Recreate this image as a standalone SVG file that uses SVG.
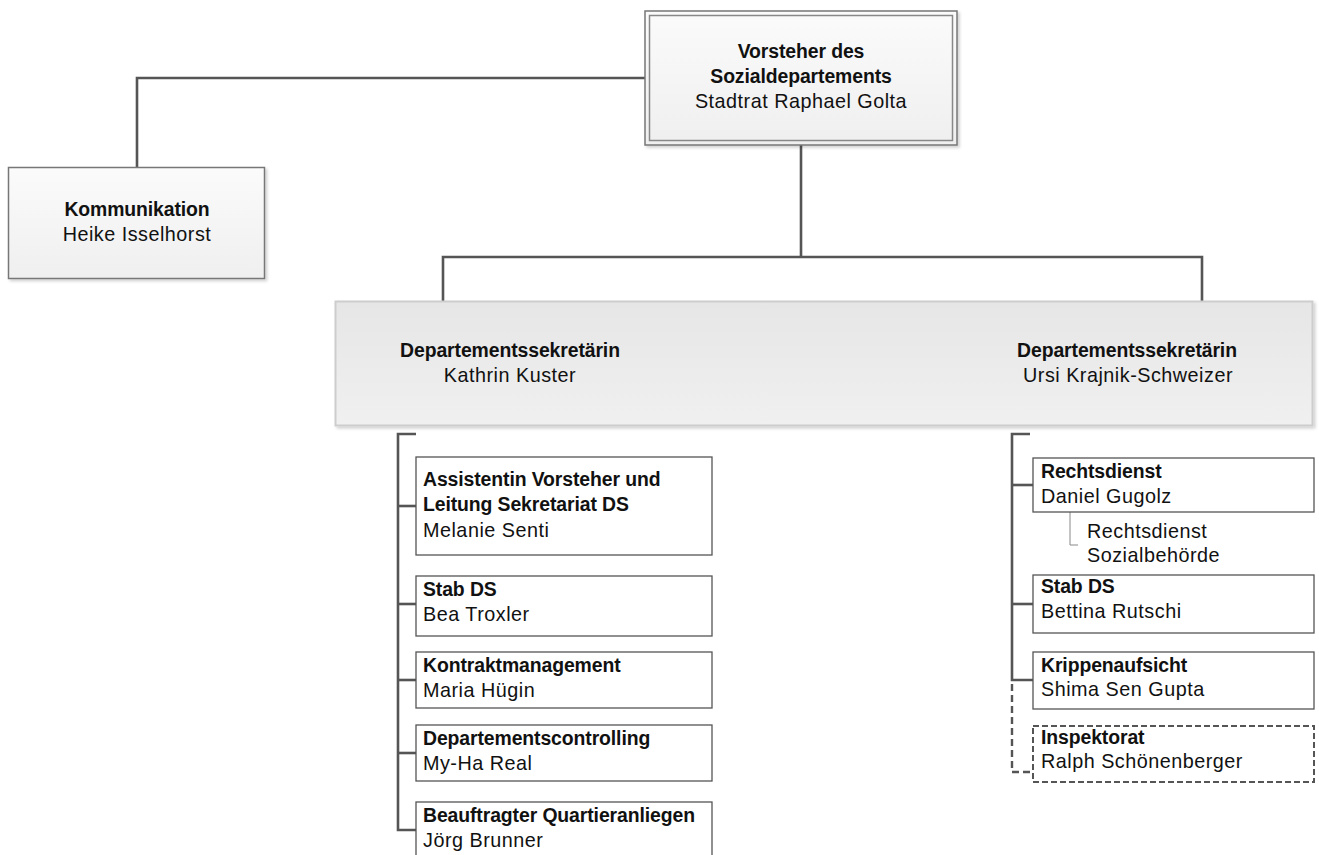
<svg xmlns="http://www.w3.org/2000/svg" width="1319" height="855" viewBox="0 0 1319 855">
  <defs>
    <linearGradient id="gTop" x1="0" y1="0" x2="0" y2="1">
      <stop offset="0" stop-color="#fbfbfb"/>
      <stop offset="1" stop-color="#efefef"/>
    </linearGradient>
    <linearGradient id="gSek" x1="0" y1="0" x2="0" y2="1">
      <stop offset="0" stop-color="#e6e6e6"/>
      <stop offset="1" stop-color="#f0f0f0"/>
    </linearGradient>
    <filter id="shadow" x="-5%" y="-5%" width="115%" height="120%">
      <feDropShadow dx="2" dy="2" stdDeviation="1.5" flood-color="#000" flood-opacity="0.18"/>
    </filter>
    <style>
      text { font-family: "Liberation Sans", Arial, sans-serif; fill: #111; }
      .b { font-weight: bold; font-size: 19.4px; letter-spacing: -0.1px; }
      .r { font-size: 19.8px; letter-spacing: 0.5px; }
      .c { text-anchor: middle; }
      .box { fill: #fff; stroke: #555; stroke-width: 1.3; }
      .dash { fill: #fff; stroke: #555; stroke-width: 2; stroke-dasharray: 6 3; }
      .ln { fill: none; stroke: #555; stroke-width: 2.6; }
      .lnd { fill: none; stroke: #555; stroke-width: 2.4; stroke-dasharray: 7 4; }
      .thin { fill: none; stroke: #888; stroke-width: 1; }
    </style>
  </defs>

  <!-- connectors -->
  <g id="connectors">
    <polyline class="ln" points="645,78 137,78 137,167"/>
    <polyline class="ln" points="801,145 801,257"/>
    <polyline class="ln" points="443,301 443,257 1202,257 1202,301"/>
    <!-- left bracket -->
    <polyline class="ln" points="416,434 398,434 398,830 416,830"/>
    <line class="ln" x1="398" y1="506" x2="416" y2="506"/>
    <line class="ln" x1="398" y1="604" x2="416" y2="604"/>
    <line class="ln" x1="398" y1="680" x2="416" y2="680"/>
    <line class="ln" x1="398" y1="753" x2="416" y2="753"/>
    <!-- right bracket -->
    <polyline class="ln" points="1030,434 1012,434 1012,680 1033,680"/>
    <line class="ln" x1="1012" y1="485" x2="1033" y2="485"/>
    <line class="ln" x1="1012" y1="604" x2="1033" y2="604"/>
    <polyline class="lnd" points="1012,684 1012,772 1033,772"/>
    <polyline class="thin" points="1070,512 1070,545 1078,545"/>
  </g>

  <g id="vorsteher">
    <rect x="645" y="11" width="312" height="134" fill="url(#gTop)" stroke="#777" stroke-width="1.5" filter="url(#shadow)"/>
    <rect x="649.5" y="15.5" width="303" height="125" fill="none" stroke="#888" stroke-width="1.5"/>
    <text class="b c" x="801" y="58">Vorsteher des</text>
    <text class="b c" x="801" y="83">Sozialdepartements</text>
    <text class="r c" x="801" y="108">Stadtrat Raphael Golta</text>
  </g>

  <g id="kommunikation">
    <rect x="8.5" y="167.5" width="256" height="111" fill="url(#gTop)" stroke="#777" stroke-width="1.5" filter="url(#shadow)"/>
    <text class="b c" x="137" y="216">Kommunikation</text>
    <text class="r c" x="137" y="241">Heike Isselhorst</text>
  </g>

  <g id="sekretariat">
    <rect x="335.5" y="301.5" width="977" height="124" fill="url(#gSek)" stroke="#cdcdcd" stroke-width="2" filter="url(#shadow)"/>
    <text class="b c" x="510" y="357">Departementssekretärin</text>
    <text class="r c" x="510" y="382">Kathrin Kuster</text>
    <text class="b c" x="1127" y="357">Departementssekretärin</text>
    <text class="r c" x="1128" y="382">Ursi Krajnik-Schweizer</text>
  </g>

  <g id="assistentin">
    <rect class="box" x="416" y="457" width="296" height="98"/>
    <text class="b" x="423" y="486">Assistentin Vorsteher und</text>
    <text class="b" x="423" y="511">Leitung Sekretariat DS</text>
    <text class="r" x="423" y="537">Melanie Senti</text>
  </g>

  <g id="stab-left">
    <rect class="box" x="416" y="576" width="296" height="60"/>
    <text class="b" x="423" y="596">Stab DS</text>
    <text class="r" x="423" y="621">Bea Troxler</text>
  </g>

  <g id="kontraktmanagement">
    <rect class="box" x="416" y="652" width="296" height="56"/>
    <text class="b" x="423" y="672">Kontraktmanagement</text>
    <text class="r" x="423" y="697">Maria Hügin</text>
  </g>

  <g id="controlling">
    <rect class="box" x="416" y="725" width="296" height="56"/>
    <text class="b" x="423" y="745">Departementscontrolling</text>
    <text class="r" x="423" y="770">My-Ha Real</text>
  </g>

  <g id="quartieranliegen">
    <rect class="box" x="416" y="802" width="296" height="60"/>
    <text class="b" x="423" y="822">Beauftragter Quartieranliegen</text>
    <text class="r" x="423" y="847">Jörg Brunner</text>
  </g>

  <g id="rechtsdienst">
    <rect class="box" x="1033" y="458" width="281" height="54"/>
    <text class="b" x="1041" y="478">Rechtsdienst</text>
    <text class="r" x="1041" y="503">Daniel Gugolz</text>
  </g>

  <g id="rechtsdienst-sozialbehoerde">
    <text class="r" x="1087" y="538">Rechtsdienst</text>
    <text class="r" x="1087" y="562">Sozialbehörde</text>
  </g>

  <g id="stab-right">
    <rect class="box" x="1033" y="575" width="281" height="58"/>
    <text class="b" x="1041" y="593">Stab DS</text>
    <text class="r" x="1041" y="618">Bettina Rutschi</text>
  </g>

  <g id="krippenaufsicht">
    <rect class="box" x="1033" y="652" width="281" height="57"/>
    <text class="b" x="1041" y="672">Krippenaufsicht</text>
    <text class="r" x="1041" y="696">Shima Sen Gupta</text>
  </g>

  <g id="inspektorat">
    <rect class="dash" x="1033" y="726" width="281" height="56"/>
    <text class="b" x="1041" y="744">Inspektorat</text>
    <text class="r" x="1041" y="768">Ralph Schönenberger</text>
  </g>
</svg>
